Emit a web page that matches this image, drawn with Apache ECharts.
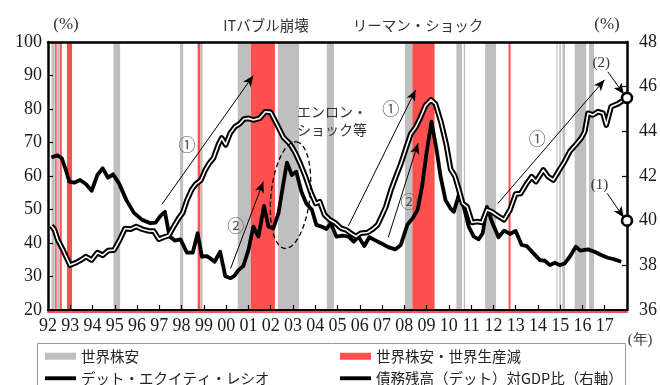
<!DOCTYPE html>
<html>
<head>
<meta charset="utf-8">
<script src="https://cdn.jsdelivr.net/npm/echarts@6/dist/echarts.min.js"></script>
<style>
  html, body { margin: 0; padding: 0; background: #fff; }
  #chart { width: 660px; height: 385px; }
</style>
</head>
<body>
<div id="chart"></div>
<script>
const SERIF = '"Liberation Serif", "Times New Roman", Times, serif';
const JP = '"Noto Sans CJK JP", sans-serif';

// Periods of global stock-market slumps [start, end] in years
const stockSlumps = [
  [1992.16, 1992.30], [1992.41, 1992.53], [1994.94, 1995.24], [1997.93, 1998.07],
  [1998.85, 1998.94], [2000.52, 2001.10], [2002.33, 2003.27], [2004.52, 2004.84],
  [2008.03, 2008.36], [2010.34, 2010.59], [2010.67, 2010.73], [2011.63, 2012.12],
  [2014.83, 2014.88], [2014.96, 2015.03], [2015.10, 2015.22], [2015.65, 2016.17],
  [2016.29, 2016.52]
];
// Slumps that came with a fall in world output
const slumpsWithOutputFall = [
  [1992.32, 1992.39], [1992.54, 1992.62], [1992.85, 1993.08], [1998.72, 1998.84],
  [2001.10, 2002.19], [2008.36, 2009.36], [2012.68, 2012.77]
];

// Debt-equity ratio (%, left axis) [year, value]
const debtEquityRatio = [
  [1992.15, 65.5], [1992.42, 66.2], [1992.62, 65.3], [1992.80, 61.8], [1992.96, 58.3],
  [1993.18, 58.0], [1993.44, 58.8], [1993.70, 57.6], [1993.96, 55.6], [1994.22, 60.3],
  [1994.45, 62.3], [1994.70, 59.5], [1994.92, 60.5], [1995.19, 57.8], [1995.52, 52.8],
  [1995.86, 49.0], [1996.23, 46.9], [1996.60, 45.9], [1996.83, 46.1], [1997.05, 48.1],
  [1997.25, 49.3], [1997.45, 42.1], [1997.69, 40.7], [1997.95, 41.1], [1998.24, 37.1],
  [1998.50, 37.1], [1998.72, 42.9], [1998.91, 35.9], [1999.13, 36.1], [1999.29, 35.4],
  [1999.48, 34.4], [1999.73, 37.4], [1999.96, 30.1], [2000.20, 29.5], [2000.37, 30.2],
  [2000.55, 31.9], [2000.77, 33.1], [2001.00, 37.9], [2001.22, 44.9], [2001.45, 41.9],
  [2001.70, 51.1], [2001.90, 44.9], [2002.12, 44.4], [2002.35, 48.9], [2002.57, 57.8],
  [2002.73, 64.0], [2002.95, 60.3], [2003.15, 61.3], [2003.38, 55.3], [2003.60, 51.8],
  [2003.85, 49.9], [2004.05, 45.4], [2004.28, 44.9], [2004.50, 44.2], [2004.70, 45.9],
  [2004.95, 41.9], [2005.24, 42.2], [2005.50, 41.9], [2005.73, 40.4], [2005.95, 41.9],
  [2006.20, 39.1], [2006.43, 41.7], [2006.72, 40.7], [2007.02, 39.7], [2007.30, 38.7],
  [2007.60, 38.1], [2007.84, 39.4], [2008.14, 45.5], [2008.39, 47.5], [2008.60, 50.0],
  [2008.80, 57.0], [2009.00, 67.0], [2009.22, 76.2], [2009.45, 67.8], [2009.63, 59.8],
  [2009.85, 52.8], [2010.07, 50.4], [2010.22, 49.3], [2010.45, 54.3], [2010.67, 50.8],
  [2010.89, 44.9], [2011.12, 41.9], [2011.34, 41.1], [2011.52, 42.9], [2011.71, 50.8],
  [2011.93, 46.4], [2012.23, 41.7], [2012.48, 43.7], [2012.75, 42.7], [2013.00, 43.6],
  [2013.27, 39.4], [2013.50, 39.1], [2013.80, 36.9], [2014.09, 34.9], [2014.31, 34.7],
  [2014.54, 33.4], [2014.76, 34.1], [2014.98, 33.4], [2015.20, 33.9], [2015.43, 35.9],
  [2015.70, 38.9], [2015.90, 37.7], [2016.25, 38.1], [2016.54, 37.4], [2016.84, 36.4],
  [2017.14, 35.6], [2017.44, 35.1], [2017.74, 34.4]
];

// Debt outstanding to GDP (%, right axis) [year, value]
const debtToGdp = [
  [1992.15, 39.77], [1992.29, 39.59], [1992.44, 39.14], [1992.66, 38.72], [1992.81, 38.39],
  [1992.99, 38.01], [1993.26, 38.12], [1993.48, 38.24], [1993.70, 38.39], [1993.96, 38.24],
  [1994.22, 38.57], [1994.45, 38.45], [1994.70, 38.66], [1994.97, 38.69], [1995.22, 39.14],
  [1995.46, 39.65], [1995.71, 39.62], [1995.96, 39.74], [1996.23, 39.62], [1996.53, 39.54],
  [1996.75, 39.53], [1996.98, 39.17], [1997.20, 39.26], [1997.42, 39.33], [1997.65, 39.74],
  [1997.87, 40.11], [1998.05, 40.35], [1998.24, 40.92], [1998.46, 41.40], [1998.64, 41.64],
  [1998.87, 41.82], [1999.06, 42.27], [1999.24, 42.57], [1999.43, 42.80], [1999.66, 43.43],
  [1999.80, 43.70], [1999.98, 43.40], [2000.18, 43.91], [2000.40, 44.21], [2000.60, 44.33],
  [2000.80, 44.55], [2001.00, 44.58], [2001.22, 44.51], [2001.50, 44.58], [2001.76, 44.88],
  [2002.00, 44.85], [2002.27, 44.33], [2002.57, 43.73], [2002.87, 43.43], [2003.10, 43.05],
  [2003.32, 42.57], [2003.55, 42.00], [2003.82, 41.22], [2004.02, 40.77], [2004.20, 40.85],
  [2004.42, 40.26], [2004.65, 40.04], [2004.87, 39.92], [2005.16, 39.66], [2005.38, 39.59],
  [2005.64, 39.41], [2005.83, 39.29], [2006.05, 39.44], [2006.35, 39.47], [2006.60, 39.63],
  [2006.80, 39.81], [2006.98, 40.19], [2007.17, 40.62], [2007.40, 41.37], [2007.62, 41.97],
  [2007.84, 42.53], [2008.06, 43.20], [2008.29, 43.88], [2008.51, 44.18], [2008.73, 44.63],
  [2008.95, 45.15], [2009.20, 45.41], [2009.40, 45.23], [2009.65, 44.40], [2009.88, 43.43],
  [2010.08, 42.30], [2010.27, 42.00], [2010.45, 41.40], [2010.62, 40.77], [2010.82, 40.62],
  [2011.04, 39.92], [2011.26, 39.96], [2011.49, 39.92], [2011.71, 40.49], [2011.93, 40.40],
  [2012.23, 40.19], [2012.48, 40.04], [2012.75, 40.49], [2013.00, 41.19], [2013.23, 41.22],
  [2013.50, 41.67], [2013.72, 41.97], [2013.91, 41.75], [2014.24, 42.27], [2014.46, 41.97],
  [2014.69, 41.82], [2014.96, 42.27], [2015.20, 42.65], [2015.43, 43.10], [2015.70, 43.40],
  [2015.95, 43.70], [2016.10, 43.98], [2016.25, 44.81], [2016.47, 44.73], [2016.70, 44.88],
  [2016.92, 44.81], [2017.07, 44.28], [2017.29, 45.11], [2017.59, 45.23], [2018.00, 45.50]
];

// Reference levels marked on the right axis
const endMarkers = [[2018, 40.0], [2018, 45.5]];

// Arrows [x1, y1, x2, y2] in years / left-axis %
const arrows = [
  [1997.12, 51.6, 2001.22, 90.0],
  [2000.20, 32.4, 2001.67, 58.3],
  [2005.49, 45.1, 2008.51, 85.7],
  [2007.28, 41.7, 2008.62, 69.8],
  [2012.20, 51.8, 2016.99, 88.7],
  [2017.14, 91.1, 2017.86, 84.4],
  [2017.11, 54.8, 2017.86, 47.6]
];

// Notes inside the plot [x, y, text, kind]
const notes = [
  [1998.24, 69.3, '①', 'circled'],
  [2000.43, 45.2, '②', 'circled'],
  [2007.39, 80.0, '①', 'circled'],
  [2008.21, 52.3, '②', 'circled'],
  [2013.97, 71.3, '①', 'circled'],
  [2016.84, 93.7, '(2)', 'paren'],
  [2016.77, 57.3, '(1)', 'paren'],
  [2004.75, 76.4, 'エンロン・\nショック等', 'text']
];

// Dashed ring around the early-2000s episode: centre in data units, radii in px
const enronRing = { center: [2002.89, 54.3], rx: 19.5, ry: 53.6, tilt: 6.2 };

const LINE_ICON = 'path://M0,0L40,0L40,5L0,5Z';

const chart = echarts.init(document.getElementById('chart'));

function bandItem(params, api) {
  const cs = params.coordSys;
  const x0 = api.coord([api.value(0), 100])[0];
  const x1 = api.coord([api.value(1), 100])[0];
  return {
    type: 'rect',
    shape: { x: x0, y: cs.y, width: Math.max(x1 - x0, 1), height: cs.height },
    style: { fill: api.visual('color') }
  };
}

const noteLabel = (kind) => {
  if (kind === 'circled') return { fontFamily: JP, fontSize: 17, color: '#555' };
  if (kind === 'paren') return { fontFamily: SERIF, fontSize: 15, color: '#333' };
  return { fontFamily: JP, fontSize: 14, color: '#333', lineHeight: 18 };
};

const axisBase = {
  type: 'value',
  z: 10,
  splitLine: { show: false },
  axisLine: { show: true, lineStyle: { color: '#000', width: 2.5 } },
  axisTick: { show: true, inside: true, length: 5, lineStyle: { color: '#000', width: 1.2 } },
  axisLabel: { fontFamily: SERIF, fontSize: 18, color: '#1a1a1a' }
};

const legendBase = {
  top: 349, height: 60, orient: 'vertical', padding: 0,
  itemWidth: 31, itemHeight: 7, itemGap: 7.5, selectedMode: false,
  textStyle: { fontFamily: JP, fontSize: 14.5, color: '#222' }
};

chart.setOption({
  animation: false,
  grid: { left: 48, right: 29, top: 42, bottom: 75 },
  xAxis: [
    Object.assign({}, axisBase, {
      min: 1992, max: 2018, interval: 1, position: 'bottom',
      axisLine: { show: true, lineStyle: { color: '#000', width: 2.2 } },
      axisLabel: {
        fontFamily: SERIF, fontSize: 18, color: '#1a1a1a', margin: 7,
        showMaxLabel: false,
        formatter: v => (v >= 2018 ? '' : String(v % 100).padStart(2, '0'))
      }
    }),
    Object.assign({}, axisBase, {
      min: 1992, max: 2018, interval: 1, position: 'top',
      axisTick: { show: false }, axisLabel: { show: false }
    }),
    Object.assign({}, axisBase, {
      min: 1992, max: 2018, interval: 1, position: 'bottom', offset: 2, z: 9,
      axisLine: { show: true, lineStyle: { color: '#ff5050', width: 2 } },
      axisTick: { show: false }, axisLabel: { show: false }
    })
  ],
  yAxis: [
    Object.assign({}, axisBase, {
      min: 20, max: 100, interval: 10, position: 'left',
      axisLabel: { fontFamily: SERIF, fontSize: 18, color: '#1a1a1a', margin: 6 }
    }),
    Object.assign({}, axisBase, {
      min: 36, max: 48, interval: 2, position: 'right',
      axisLabel: { fontFamily: SERIF, fontSize: 18, color: '#1a1a1a', margin: 12 }
    })
  ],
  legend: [
    Object.assign({}, legendBase, {
      left: 45,
      data: [
        { name: '世界株安', icon: 'rect' },
        { name: 'デット・エクイティ・レシオ', icon: LINE_ICON }
      ]
    }),
    Object.assign({}, legendBase, {
      left: 340,
      data: [
        { name: '世界株安・世界生産減', icon: 'rect' },
        { name: '債務残高（デット）対GDP比（右軸）', icon: LINE_ICON }
      ]
    })
  ],
  series: [
    {
      name: '世界株安', type: 'custom', renderItem: bandItem, z: 1,
      itemStyle: { color: '#bfbfbf' }, encode: { x: [0, 1] }, data: stockSlumps, silent: true
    },
    {
      name: '世界株安・世界生産減', type: 'custom', renderItem: bandItem, z: 1,
      itemStyle: { color: '#ff5050' }, encode: { x: [0, 1] }, data: slumpsWithOutputFall, silent: true
    },
    {
      name: 'デット・エクイティ・レシオ', type: 'line', yAxisIndex: 0, z: 3,
      showSymbol: false, symbol: 'none', silent: true,
      itemStyle: { color: '#000' },
      lineStyle: { color: '#000', width: 3.8, join: 'round' },
      data: debtEquityRatio,
      markLine: {
        silent: true, animation: false, symbol: ['none', 'arrow'], symbolSize: [7, 11],
        label: { show: false },
        lineStyle: { color: '#000', width: 1, type: 'solid' },
        data: arrows.map(a => [{ coord: [a[0], a[1]] }, { coord: [a[2], a[3]] }])
      },
      markPoint: {
        silent: true, animation: false, symbol: 'rect', symbolSize: 1,
        itemStyle: { color: 'rgba(0,0,0,0)' },
        data: notes.map(n => ({
          coord: [n[0], n[1]],
          label: Object.assign({ show: true, position: 'inside', formatter: n[2] }, noteLabel(n[3]))
        }))
      }
    },
    {
      name: '債務残高（デット）対GDP比（右軸）', type: 'line', yAxisIndex: 1, z: 3,
      showSymbol: false, symbol: 'none', silent: true,
      itemStyle: { color: '#000' },
      lineStyle: { color: '#000', width: 5.6, join: 'round' },
      data: debtToGdp
    },
    {
      name: 'debtInner', type: 'line', yAxisIndex: 1, z: 4,
      showSymbol: false, symbol: 'none', silent: true,
      lineStyle: { color: '#fff', width: 1.6, join: 'round' },
      data: debtToGdp
    },
    {
      name: 'endMarkers', type: 'scatter', yAxisIndex: 1, z: 20, clip: false, silent: true,
      symbol: 'circle', symbolSize: 10,
      itemStyle: { color: '#fff', opacity: 1, borderColor: '#000', borderWidth: 2.6 },
      data: endMarkers
    }
  ],
  graphic: [
    {
      id: 'legendFrame', type: 'rect', silent: true,
      shape: { x: 37.5, y: 343.5, width: 588, height: 70 },
      style: { fill: 'none', stroke: '#9a9a9a', lineWidth: 1 }
    },
    { id: 'tIT', type: 'text', x: 266, y: 25, silent: true,
      style: { text: 'ITバブル崩壊', fontFamily: JP, fontSize: 14.5, fill: '#333', align: 'center', verticalAlign: 'middle' } },
    { id: 'tLehman', type: 'text', x: 418, y: 25, silent: true,
      style: { text: 'リーマン・ショック', fontFamily: JP, fontSize: 14.5, fill: '#333', align: 'center', verticalAlign: 'middle' } },
    { id: 'unitL', type: 'text', x: 66, y: 25, silent: true,
      style: { text: '(%)', fontFamily: SERIF, fontSize: 17, fill: '#333', align: 'center', verticalAlign: 'middle' } },
    { id: 'unitR', type: 'text', x: 607, y: 25, silent: true,
      style: { text: '(%)', fontFamily: SERIF, fontSize: 17, fill: '#333', align: 'center', verticalAlign: 'middle' } },
    { id: 'unitX', type: 'text', x: 640, y: 340, silent: true,
      style: { text: '(年)', fontFamily: SERIF, fontSize: 14.5, fill: '#333', align: 'center', verticalAlign: 'middle' } }
  ]
});

// Dashed ring, placed from its data-space centre
(function drawRing() {
  const c = chart.convertToPixel({ xAxisIndex: 0, yAxisIndex: 0 }, enronRing.center);
  const th = enronRing.tilt * Math.PI / 180;
  const u = [Math.sin(th), -Math.cos(th)];
  const v = [Math.cos(th), Math.sin(th)];
  const pts = [];
  for (let i = 0; i < 96; i++) {
    const t = (i / 96) * Math.PI * 2;
    const a = enronRing.ry * Math.cos(t), b = enronRing.rx * Math.sin(t);
    pts.push([c[0] + a * u[0] + b * v[0], c[1] + a * u[1] + b * v[1]]);
  }
  chart.setOption({
    graphic: [{
      id: 'enronRing', type: 'polygon', silent: true, z: 50,
      shape: { points: pts },
      style: { fill: 'none', stroke: '#000', lineWidth: 1.3, lineDash: [5, 3] }
    }]
  });
})();
</script>
</body>
</html>
